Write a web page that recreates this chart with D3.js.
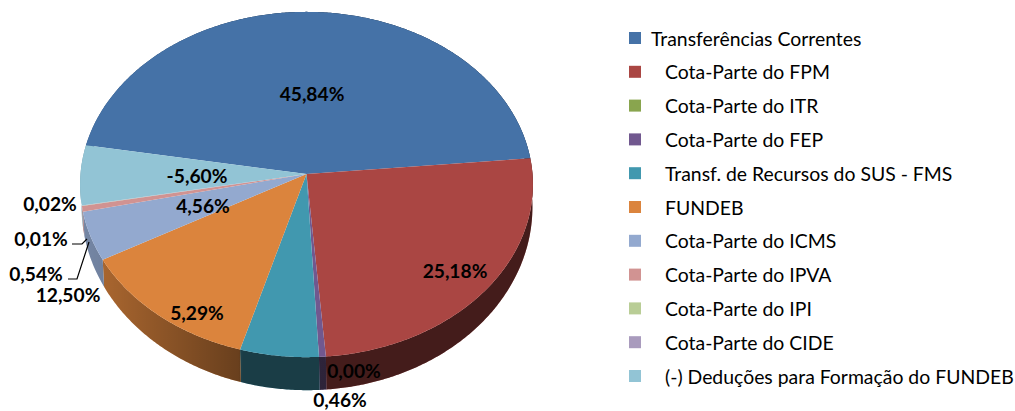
<!DOCTYPE html>
<html>
<head>
<meta charset="utf-8">
<script src="https://cdn.jsdelivr.net/npm/d3@7"></script>
<style>
  html, body { margin: 0; padding: 0; background: #fff; }
  svg { display: block; }
  text { font-family: Lato, "Open Sans", sans-serif; fill: #000; }
</style>
</head>
<body>
<svg id="chart" width="1015" height="411"></svg>
<script>
const categories = ["Transferências Correntes", "Cota-Parte do FPM", "Cota-Parte do ITR", "Cota-Parte do FEP",
  "Transf. de Recursos do SUS - FMS", "FUNDEB", "Cota-Parte do ICMS", "Cota-Parte do IPVA",
  "Cota-Parte do IPI", "Cota-Parte do CIDE", "(-) Deduções para Formação do FUNDEB"];
const values = [45.84, 25.18, 0.00, 0.46, 5.29, 12.50, 4.56, 0.54, 0.01, 0.02, -5.60];
const colors = ["#4572a7", "#aa4643", "#89a54e", "#71588f", "#4198af", "#db843d", "#93a9cf", "#d19392", "#b9cd96", "#a99bbd", "#92c4d5"];

// label positions, placed by hand like the original (order follows values)
const labelSpots = [[312, 93], [455, 270], [354, 370], [340, 399], [197, 312], [68, 294], [203, 205], [36, 273], [41, 238], [50, 203], [197, 175]];
// elbow leader lines of the two small labels
const leaders = [[[72, 244], [82, 244], [87, 239]], [[68, 279], [77, 279], [89, 242]]];

const svg = d3.select("#chart");

// perspective view of the disc: the apex is not the middle of the ellipse
const apexX = 306.5, apexY = 174, k = 0.0609, rx0 = 226, ry0 = 172;
const midY = 184.5, topRx = 226, topRy = 172.5;
const baseX = 307, baseY = 207, baseRx = 225, baseRy = 183;
const rad = Math.PI / 180;

function rimTop(a) {
  const u = Math.cos(a - Math.PI / 2), v = Math.sin(a - Math.PI / 2), w = 1 - k * v;
  return [apexX + rx0 * u / w, apexY + ry0 * v / w];
}
function rimBase(a) {
  const p = rimTop(a);
  return [baseX + (p[0] - apexX) / topRx * baseRx, baseY + (p[1] - midY) / topRy * baseRy];
}

const pie = d3.pie().sort(null).value(d => Math.abs(d)).startAngle(-80.3 * rad).endAngle(279.7 * rad);
const arcs = pie(values);
const line = d3.line();

function sample(a0, a1) {
  const n = Math.max(2, Math.ceil((a1 - a0) / (0.5 * rad)));
  return d3.range(n + 1).map(i => a0 + (a1 - a0) * i / n);
}

// darker towards the right, same shade over every wall
const shade = svg.append("defs").append("linearGradient").attr("id", "wallShade")
  .attr("gradientUnits", "userSpaceOnUse").attr("x1", 80).attr("x2", 533).attr("y1", 0).attr("y2", 0);
[[0, 0.2], [0.07, 0.25], [0.35, 0.52], [0.36, 0.6], [1, 0.6]].forEach(s =>
  shade.append("stop").attr("offset", s[0]).attr("stop-color", "#000").attr("stop-opacity", s[1]));

// walls first, the top face covers whatever is behind it
const walls = svg.append("g");
arcs.forEach((d, i) => {
  if (d.value === 0) return;
  const angles = sample(d.startAngle, d.endAngle);
  const path = line(angles.map(rimTop).concat(angles.slice().reverse().map(rimBase))) + "Z";
  walls.append("path").attr("d", path).attr("fill", colors[i]);
  walls.append("path").attr("d", path).attr("fill", "url(#wallShade)");
});

// top face
svg.append("g").selectAll("path").data(arcs).join("path")
  .attr("d", d => line([[apexX, apexY]].concat(sample(d.startAngle, d.endAngle).map(rimTop))) + "Z")
  .attr("fill", (d, i) => colors[i]);

// data labels
svg.append("g").selectAll("text").data(values).join("text")
  .attr("x", (d, i) => labelSpots[i][0])
  .attr("y", (d, i) => labelSpots[i][1])
  .attr("text-anchor", "middle")
  .attr("dominant-baseline", "central")
  .attr("font-size", 19.2)
  .attr("font-weight", 700)
  .text(d => d3.format(".2f")(d).replace("−", "-").replace(".", ",") + "%");

svg.append("g").selectAll("path").data(leaders).join("path")
  .attr("d", d => line(d))
  .attr("fill", "none").attr("stroke", "#000").attr("stroke-width", 1.2);

// legend
const rowY = d3.scalePoint().domain(categories).range([38, 376]);
const legend = svg.append("g").selectAll("g").data(categories).join("g")
  .attr("transform", d => `translate(0,${rowY(d)})`);
legend.append("rect").attr("x", 629).attr("y", -6).attr("width", 12).attr("height", 12)
  .attr("fill", (d, i) => colors[i]);
legend.append("text")
  .attr("x", (d, i) => i === 0 ? 651 : 665)
  .attr("dominant-baseline", "central")
  .attr("font-size", 19.4)
  .text(d => d);
</script>
</body>
</html>
